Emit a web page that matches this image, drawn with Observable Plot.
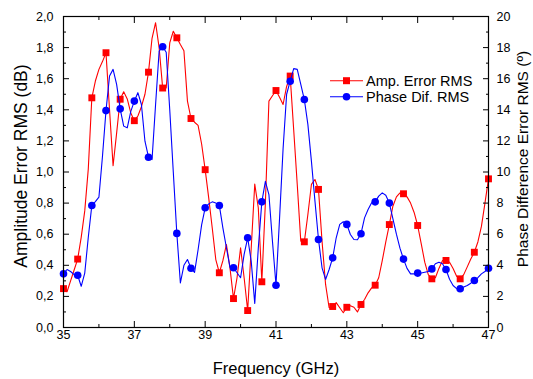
<!DOCTYPE html>
<html>
<head>
<meta charset="utf-8">
<script src="https://cdn.jsdelivr.net/npm/d3@7"></script>
<script src="https://cdn.jsdelivr.net/npm/@observablehq/plot@0.6"></script>
<style>
  html, body { margin: 0; padding: 0; background: #fff; }
  #chart { width: 533px; height: 379px; }
</style>
</head>
<body>
<div id="chart"></div>
<script>
// Frequency samples (GHz)
const freq = [
  35.0,35.1,35.2,35.3,35.4,35.5,35.6,35.7,35.8,35.9,
  36.0,36.1,36.2,36.3,36.4,36.5,36.6,36.7,36.8,36.9,
  37.0,37.1,37.2,37.3,37.4,37.5,37.6,37.7,37.8,37.9,
  38.0,38.1,38.2,38.3,38.4,38.5,38.6,38.7,38.8,38.9,
  39.0,39.1,39.2,39.3,39.4,39.5,39.6,39.7,39.8,39.9,
  40.0,40.1,40.2,40.3,40.4,40.5,40.6,40.7,40.8,40.9,
  41.0,41.1,41.2,41.3,41.4,41.5,41.6,41.7,41.8,41.9,
  42.0,42.1,42.2,42.3,42.4,42.5,42.6,42.7,42.8,42.9,
  43.0,43.1,43.2,43.3,43.4,43.5,43.6,43.7,43.8,43.9,
  44.0,44.1,44.2,44.3,44.4,44.5,44.6,44.7,44.8,44.9,
  45.0,45.1,45.2,45.3,45.4,45.5,45.6,45.7,45.8,45.9,
  46.0,46.1,46.2,46.3,46.4,46.5,46.6,46.7,46.8,46.9,
  47.0
];

// Amplitude Error RMS (dB)
const ampError = [
  0.25,0.23,0.30,0.37,0.44,0.58,0.75,1.02,1.477,1.585,
  1.66,1.71,1.767,1.40,1.04,1.25,1.468,1.516,1.47,1.38,
  1.33,1.36,1.42,1.50,1.642,1.86,1.96,1.80,1.54,1.54,
  1.83,1.905,1.863,1.82,1.78,1.456,1.344,1.32,1.30,1.18,
  1.015,0.834,0.64,0.437,0.352,0.43,0.534,0.384,0.186,0.32,
  0.512,0.32,0.109,0.51,0.922,0.77,0.294,0.80,1.456,1.49,
  1.524,1.48,1.434,1.55,1.617,1.27,0.92,0.555,0.551,0.727,
  0.92,0.952,0.888,0.555,0.277,0.127,0.135,0.16,0.127,0.095,
  0.13,0.14,0.13,0.10,0.148,0.18,0.223,0.255,0.272,0.32,
  0.43,0.55,0.662,0.78,0.84,0.865,0.86,0.84,0.80,0.74,
  0.656,0.54,0.42,0.34,0.313,0.32,0.38,0.43,0.431,0.42,
  0.38,0.33,0.313,0.34,0.39,0.44,0.484,0.55,0.65,0.80,
  0.956
];

// Phase Difference RMS (degrees)
const phaseDif = [
  3.45,3.73,3.6,3.4,3.36,2.65,3.5,5.8,7.85,8.1,
  8.38,11.0,13.95,16.17,16.6,15.63,14.06,12.95,12.84,13.9,
  14.56,15.1,14.34,11.98,10.95,10.8,14.34,17.77,18.05,17.7,
  14.0,10.0,6.05,2.87,4.0,4.37,3.81,3.55,5.0,6.6,
  7.7,7.95,8.08,8.0,7.85,6.41,5.13,3.88,3.84,3.52,
  3.2,4.7,5.77,4.27,1.55,5.1,8.08,9.4,8.55,5.55,
  2.72,7.0,11.5,15.0,15.84,16.65,16.6,15.63,14.66,13.06,
  10.7,8.13,5.66,3.84,3.09,3.73,4.48,5.77,6.63,6.8,
  6.63,5.98,5.66,5.64,6.03,7.05,7.59,8.02,8.08,8.45,
  8.66,8.5,8.0,7.0,6.0,5.1,4.4,3.8,3.45,3.45,
  3.5,3.5,3.55,3.6,3.77,4.1,4.2,4.1,3.73,3.1,
  2.7,2.5,2.49,2.6,2.7,2.85,3.02,3.2,3.45,3.6,
  3.81
];

// Axis ticks and labels
const xMajor = [35, 37, 39, 41, 43, 45, 47];
const xMajorLabels = ["35", "37", "39", "41", "43", "45", "47"];
const xMinor = [36, 38, 40, 42, 44, 46];
const yMajor = [0, 0.2, 0.4, 0.6, 0.8, 1.0, 1.2, 1.4, 1.6, 1.8, 2.0];
const yMajorLabels = ["0,0","0,2","0,4","0,6","0,8","1,0","1,2","1,4","1,6","1,8","2,0"];
const yMinor = [0.1, 0.3, 0.5, 0.7, 0.9, 1.1, 1.3, 1.5, 1.7, 1.9];
const rightLabels = ["0","2","4","6","8","10","12","14","16","18","20"];
const phaseToAmp = 0.1; // right axis: 20° spans the same height as 2.0 dB

const seriesNames = ["Amp. Error RMS", "Phase Dif. RMS"];
const seriesColors = ["#ff0000", "#0000ff"];
const xTitle = "Frequency (GHz)";
const yTitle = "Amplitude Error RMS (dB)";
const y2Title = "Phase Difference Error RMS (º)";

const amp = freq.map((f, i) => ({f, v: ampError[i], i}));
const phase = freq.map((f, i) => ({f, v: phaseDif[i] * phaseToAmp, i}));
const markerEvery = 4;

const FONT = "'Liberation Sans', Arial, sans-serif";

const chart = Plot.plot({
  width: 533,
  height: 379,
  marginLeft: 63,
  marginRight: 45,
  marginTop: 16,
  marginBottom: 52,
  x: {domain: [35, 47]},
  y: {domain: [0, 2]},
  style: {fontFamily: FONT, fontSize: "12.5px", color: "#000", background: "#fff", overflow: "visible"},
  marks: [
    Plot.line(amp, {x: "f", y: "v", stroke: seriesColors[0], strokeWidth: 1.1}),
    Plot.dot(amp.filter(d => d.i % markerEvery === 0), {x: "f", y: "v", symbol: "square", r: 3.9, fill: seriesColors[0], stroke: "none"}),
    Plot.line(phase, {x: "f", y: "v", stroke: seriesColors[1], strokeWidth: 1.1}),
    Plot.dot(phase.filter(d => d.i % markerEvery === 0), {x: "f", y: "v", symbol: "circle", r: 3.8, fill: seriesColors[1], stroke: "none"}),
    // bottom axis
    Plot.axisX({anchor: "bottom", ticks: xMajor, tickSize: -6, tickPadding: 9, tickFormat: (d, i) => xMajorLabels[i], label: null}),
    Plot.axisX({anchor: "bottom", ticks: xMinor, tickSize: -3, tickFormat: () => "", label: null}),
    // top axis (ticks only)
    Plot.axisX({anchor: "top", ticks: xMajor, tickSize: -6, tickFormat: () => "", label: null}),
    Plot.axisX({anchor: "top", ticks: xMinor, tickSize: -3, tickFormat: () => "", label: null}),
    // left axis
    Plot.axisY({anchor: "left", ticks: yMajor, tickSize: -6, tickPadding: 16, tickFormat: (d, i) => yMajorLabels[i], label: null}),
    Plot.axisY({anchor: "left", ticks: yMinor, tickSize: -3, tickFormat: () => "", label: null}),
    // right axis
    Plot.axisY({anchor: "right", ticks: yMajor, tickSize: -6, tickPadding: 14, tickFormat: (d, i) => rightLabels[i], label: null}),
    Plot.axisY({anchor: "right", ticks: yMinor, tickSize: -3, tickFormat: () => "", label: null}),
    Plot.frame({stroke: "#000", strokeWidth: 1.2})
  ]
});

document.getElementById("chart").appendChild(chart);

// Titles and legend (layout elements)
const svg = d3.select(chart);
svg.append("text")
  .attr("x", 276).attr("y", 374)
  .attr("text-anchor", "middle")
  .style("font-family", FONT).style("font-size", "16.5px")
  .text(xTitle);
svg.append("text")
  .attr("transform", "translate(27,166) rotate(-90)")
  .attr("text-anchor", "middle")
  .style("font-family", FONT).style("font-size", "17.5px")
  .text(yTitle);
svg.append("text")
  .attr("transform", "translate(528,159) rotate(-90)")
  .attr("text-anchor", "middle")
  .style("font-family", FONT).style("font-size", "15.5px")
  .text(y2Title);

const legend = svg.append("g");
seriesNames.forEach((name, k) => {
  const cy = 80.7 + k * 16;
  legend.append("line")
    .attr("x1", 330).attr("x2", 363).attr("y1", cy).attr("y2", cy)
    .attr("stroke", seriesColors[k]).attr("stroke-width", 1.1);
  if (k === 0) {
    legend.append("rect").attr("x", 346.5 - 3.5).attr("y", cy - 3.5)
      .attr("width", 7).attr("height", 7).attr("fill", seriesColors[k]);
  } else {
    legend.append("circle").attr("cx", 346.5).attr("cy", cy).attr("r", 3.8)
      .attr("fill", seriesColors[k]);
  }
  legend.append("text")
    .attr("x", 366).attr("y", cy + 5)
    .attr("text-anchor", "start")
    .style("font-family", FONT).style("font-size", "14.5px")
    .text(name);
});
</script>
</body>
</html>
